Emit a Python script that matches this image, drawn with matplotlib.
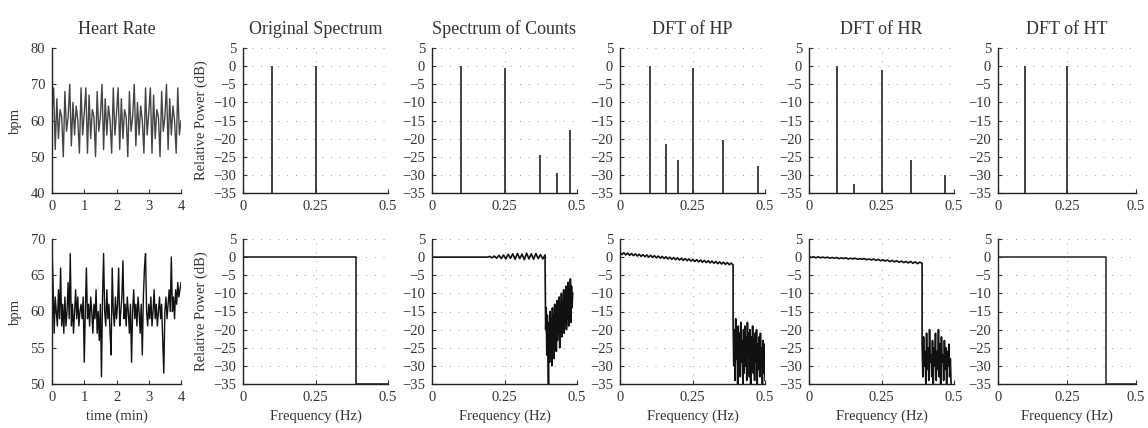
import numpy as np
import matplotlib
matplotlib.use("Agg")
import matplotlib.pyplot as plt

plt.rcParams['font.family'] = ['Liberation Serif', 'DejaVu Serif']
plt.rcParams['axes.unicode_minus'] = True

# ---- dados ----
titulos = ['Heart Rate', 'Original Spectrum', 'Spectrum of Counts',
           'DFT of HP', 'DFT of HR', 'DFT of HT']

# frequencia cardiaca (bpm), linha de cima: periodica
hr_topo = [62, 69, 52, 66, 55, 63, 61, 50, 68, 57,
           61, 70, 53, 65, 56, 64, 60, 51, 69, 56,
           62, 69, 51, 67, 55, 63, 61, 50, 68, 57,
           61, 70, 52, 66, 56, 64, 60, 51, 69, 56,
           62, 69, 52, 66, 55, 63, 61, 50, 68, 57,
           61, 70, 53, 65, 56, 64, 60, 51, 69, 56,
           62, 69, 51, 67, 55, 63, 61, 50, 68, 57,
           61, 70, 52, 66, 56, 64, 60, 51, 69, 56,
           60]

# frequencia cardiaca (bpm), linha de baixo: ruidosa
hr_baixo = [69, 64, 57, 62, 60, 58, 63, 59, 66, 58,
            61, 57, 62, 58, 60, 64, 59, 68, 58, 61,
            57, 60, 63, 59, 62, 58, 60, 61, 59, 62,
            53, 60, 66, 59, 61, 58, 62, 60, 57, 61,
            59, 63, 57, 60, 56, 61, 51, 62, 68, 60,
            58, 63, 59, 61, 57, 54, 66, 60, 58, 62,
            59, 61, 66, 58, 60, 62, 67, 59, 61, 58,
            62, 60, 57, 61, 53, 60, 63, 59, 61, 58,
            62, 60, 57, 61, 54, 62, 66, 68, 60, 58,
            61, 59, 62, 58, 60, 63, 59, 61, 58, 60,
            62, 59, 61, 56, 51.5, 60, 62, 59, 61, 63,
            60, 67.5, 60, 62, 59, 63, 61, 64, 62, 63,
            64]

# linha de cima: picos (Hz, dB)
picos_freq = {
    'Original Spectrum': [0.1, 0.25],
    'Spectrum of Counts': [0.1, 0.25, 0.373, 0.43, 0.477],
    'DFT of HP': [0.102, 0.16, 0.2, 0.252, 0.356, 0.477],
    'DFT of HR': [0.098, 0.155, 0.25, 0.35, 0.47],
    'DFT of HT': [0.098, 0.25],
}
picos_db = {
    'Original Spectrum': [0, 0],
    'Spectrum of Counts': [0, -0.5, -24.5, -29.5, -17.5],
    'DFT of HP': [0, -21.5, -26, -0.5, -20.5, -27.5],
    'DFT of HR': [0, -32.5, -1, -26, -30],
    'DFT of HT': [0, 0],
}

# linha de baixo: espectros de banda ate ~0.39 Hz
orig_f = [0, 0.39, 0.39, 0.5]
orig_db = [0, 0, -35, -35]
ht_f = [0, 0.39, 0.39, 0.5]
ht_db = [0, 0, -35, -35]

cont_plano = [0, 0, 0, 0, 0, 0, 0, 0, 0, 0,
              0, 0, 0, 0, 0, 0, 0, 0, 0, 0,
              0, 0, 0, 0, 0, 0.2, -0.2, 0.3, -0.3, 0.5,
              -0.4, 0.6, -0.5, 0.8, -0.3, 0.9, -0.6, 1.0, -0.4, 0.8,
              -0.7, 1.1, -0.5, 0.9, -0.6, 1.0, -0.4, 0.7, -0.5, 0.6]
cont_ruido = [-3, -20, -14, -27, -16, -25, -35, -18, -29, -15,
              -26, -17, -30, -14, -24, -16, -28, -13, -22, -15,
              -26, -12, -23, -14, -21, -11, -25, -13, -20, -10,
              -22, -12, -19, -9, -21, -11, -18, -8, -20, -10,
              -17, -7, -19, -9, -16, -6, -18, -8, -14, -10]

hp_plano = [1.3, 0.7, 1.2, 0.6, 1.1, 0.5, 1.0, 0.4, 0.9, 0.3,
            0.8, 0.2, 0.7, 0.1, 0.6, 0.0, 0.5, -0.1, 0.4, -0.2,
            0.3, -0.3, 0.2, -0.4, 0.1, -0.5, 0.0, -0.6, -0.1, -0.7,
            -0.2, -0.8, -0.3, -0.9, -0.4, -1.0, -0.5, -1.1, -0.6, -1.2,
            -0.7, -1.3, -0.8, -1.4, -0.9, -1.5, -1.0, -1.6, -1.1, -1.7,
            -1.2, -1.8, -1.3, -1.9, -1.4, -2.0, -1.5, -2.1, -1.6, -2.2]
hp_ruido = [-18, -30, -20, -34, -17, -28, -22, -35, -19, -31,
            -21, -33, -18, -29, -23, -35, -20, -32, -19, -30,
            -22, -34, -18, -27, -21, -33, -20, -35, -22, -30,
            -19, -32, -23, -34, -21, -29, -20, -35, -24, -31,
            -22, -33, -21, -30, -25, -35, -23, -32, -24, -34]

hr_plano = [0.2, -0.1, 0.1, -0.2, 0.1, -0.2, 0.0, -0.2, 0.0, -0.3,
            -0.1, -0.3, -0.1, -0.4, -0.2, -0.4, -0.2, -0.5, -0.3, -0.5,
            -0.3, -0.6, -0.4, -0.6, -0.4, -0.7, -0.5, -0.8, -0.5, -0.9,
            -0.6, -1.0, -0.7, -1.1, -0.8, -1.2, -0.9, -1.3, -1.0, -1.4,
            -1.1, -1.5, -1.2, -1.6, -1.2, -1.7, -1.3, -1.8, -1.4, -1.7]
hr_ruido = [-24, -33, -22, -30, -26, -35, -21, -31, -25, -34,
            -20, -29, -27, -33, -23, -35, -25, -30, -21, -34,
            -26, -31, -20, -33, -24, -35, -22, -29, -27, -34,
            -23, -31, -25, -35, -26, -30, -24, -33, -28, -35]

# ---- layout (pixels) ----
W, H = 1148, 428
esq = [52, 243, 432, 620, 809, 998]
larg = [129, 145, 145, 145, 145, 138]
linhas = [(48, 193), (239, 384)]

cor_txt = '#333333'
fig = plt.figure(figsize=(W / 100, H / 100), dpi=100)


def novo_eixo(col, lin):
    topo, base = linhas[lin]
    ax = fig.add_axes([esq[col] / W, 1 - base / H, larg[col] / W, (base - topo) / H])
    for s in ['top', 'right']:
        ax.spines[s].set_visible(False)
    for s in ['left', 'bottom']:
        ax.spines[s].set_linewidth(1.0)
        ax.spines[s].set_color('#222222')
    ax.tick_params(direction='in', length=3, width=0.8, labelsize=10.5,
                   colors=cor_txt, pad=5)
    return ax


def estilo_espectro(ax):
    ax.set_xlim(0, 0.5)
    ax.set_ylim(-35, 5)
    ax.set_xticks([0, 0.25, 0.5])
    ax.set_xticklabels(['0', '0.25', '0.5'])
    ax.set_yticks(np.arange(-35, 6, 5))
    ax.grid(True, linestyle=(0, (1, 8)), color='#999999', linewidth=0.7)
    ax.set_axisbelow(True)


eixos = {}
for lin in range(2):
    for col in range(6):
        eixos[(lin, col)] = novo_eixo(col, lin)

# a) heart rate
ax = eixos[(0, 0)]
ax.plot(np.linspace(0, 4, len(hr_topo)), hr_topo, color='#444444', linewidth=1.0)
ax.set_xlim(0, 4)
ax.set_ylim(40, 80)
ax.set_yticks([40, 50, 60, 70, 80])
ax.set_ylabel('bpm', fontsize=10.5, color=cor_txt, labelpad=6)

ax = eixos[(1, 0)]
ax.plot(np.linspace(0, 4, len(hr_baixo)), hr_baixo, color='#111111', linewidth=1.0)
ax.set_xlim(0, 4)
ax.set_ylim(50, 70)
ax.set_yticks([50, 55, 60, 65, 70])
ax.set_ylabel('bpm', fontsize=10.5, color=cor_txt, labelpad=6)
ax.set_xlabel('time (min)', fontsize=10.5, color=cor_txt, labelpad=4)

for ax in [eixos[(0, 0)], eixos[(1, 0)]]:
    ax.set_xticks([0, 1, 2, 3, 4])

# b) espectros linha de cima
for col in range(1, 6):
    ax = eixos[(0, col)]
    estilo_espectro(ax)
    nome = titulos[col]
    ax.vlines(picos_freq[nome], -35, picos_db[nome], color='#333333', linewidth=1.3)

# c) espectros linha de baixo
corte = 0.39
eixos[(1, 1)].plot(orig_f, orig_db, color='#222222', linewidth=1.2)

f_plano = np.linspace(0, corte, len(cont_plano))
f_ruido = np.linspace(corte, 0.485, len(cont_ruido))
eixos[(1, 2)].plot(np.concatenate([f_plano, f_ruido]), cont_plano + cont_ruido,
                   color='#111111', linewidth=1.2)

f_plano = np.linspace(0, corte, len(hp_plano))
f_ruido = np.linspace(corte, 0.5, len(hp_ruido))
eixos[(1, 3)].plot(np.concatenate([f_plano, f_ruido]), hp_plano + hp_ruido,
                   color='#111111', linewidth=1.2)

f_plano = np.linspace(0, corte, len(hr_plano))
f_ruido = np.linspace(corte, 0.49, len(hr_ruido))
eixos[(1, 4)].plot(np.concatenate([f_plano, f_ruido]), hr_plano + hr_ruido,
                   color='#111111', linewidth=1.2)

eixos[(1, 5)].plot(ht_f, ht_db, color='#333333', linewidth=1.2)

for col in range(1, 6):
    ax = eixos[(1, col)]
    estilo_espectro(ax)
    ax.set_xlabel('Frequency (Hz)', fontsize=10.5, color=cor_txt, labelpad=4)

for lin in range(2):
    eixos[(lin, 1)].set_ylabel('Relative Power (dB)', fontsize=10.5,
                               color=cor_txt, labelpad=4)

for col in range(6):
    eixos[(0, col)].set_title(titulos[col], fontsize=13, color=cor_txt, pad=10)

fig.savefig('out.png', dpi=100)
